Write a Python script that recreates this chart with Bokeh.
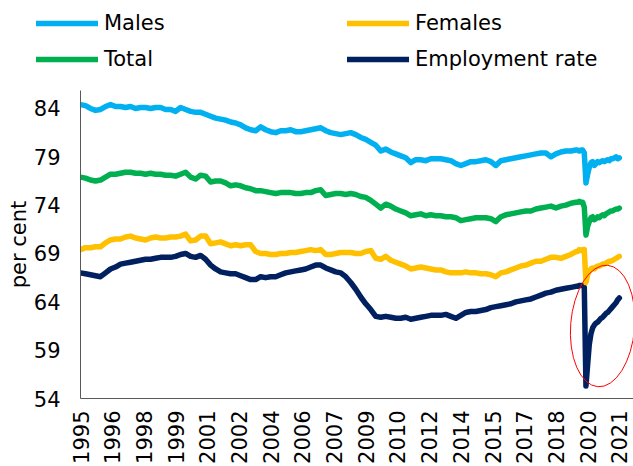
import math
from bokeh.plotting import figure
from bokeh.layouts import column
from bokeh.models import Range1d, FixedTicker, Legend, LegendItem
from bokeh.embed import file_html
from bokeh.resources import INLINE

# Observation months, counted from January 1995 (quarterly to Oct 2019, then monthly to Dec 2021)
month_index = list(range(0, 298, 3)) + list(range(298, 324))

males = [84.4, 84.3, 84.0, 83.8, 83.9, 84.2, 84.4, 84.2, 84.2, 84.1,
         84.2, 84.0, 84.1, 84.1, 84.0, 84.1, 84.1, 83.9, 83.9, 83.7,
         84.1, 83.9, 83.7, 83.6, 83.6, 83.4, 83.2, 83.0, 82.9, 82.8,
         82.6, 82.5, 82.3, 82.0, 81.8, 81.7, 82.1, 81.8, 81.6, 81.5,
         81.7, 81.7, 81.8, 81.6, 81.6, 81.7, 81.8, 81.9, 82.0, 81.7,
         81.5, 81.4, 81.3, 81.4, 81.5, 81.3, 81.0, 80.8, 80.5, 80.2,
         79.6, 79.8, 79.5, 79.3, 79.1, 78.9, 78.4, 78.7, 78.7, 78.6,
         78.8, 78.8, 78.8, 78.7, 78.6, 78.3, 78.1, 78.3, 78.5, 78.5,
         78.6, 78.7, 78.5, 78.1, 78.6, 78.7, 78.8, 78.9, 79.0, 79.1,
         79.2, 79.3, 79.4, 79.4, 79.0, 79.3, 79.5, 79.6, 79.6, 79.7,
         79.7, 79.6, 79.7, 79.7, 79.4, 76.3, 77.2, 77.9, 78.4, 78.5,
         78.1, 78.3, 78.5, 78.4, 78.5, 78.6, 78.5, 78.6, 78.7, 78.6,
         78.8, 78.8, 78.9, 79.0, 78.8, 78.9]

females = [69.4, 69.6, 69.6, 69.7, 69.7, 70.1, 70.4, 70.5, 70.5, 70.7,
           70.8, 70.6, 70.5, 70.4, 70.6, 70.7, 70.6, 70.6, 70.7, 70.7,
           70.8, 71.0, 70.3, 70.4, 70.8, 70.8, 70.0, 70.1, 70.2, 70.0,
           69.8, 69.9, 69.8, 69.9, 69.9, 69.2, 69.0, 69.0, 68.9, 68.9,
           69.0, 69.0, 69.1, 69.1, 69.2, 69.3, 69.4, 69.3, 69.4, 68.9,
           68.9, 69.0, 69.1, 69.1, 69.1, 69.0, 69.0, 69.2, 69.3, 68.5,
           68.4, 68.7, 68.3, 68.1, 67.9, 67.7, 67.4, 67.5, 67.6, 67.5,
           67.4, 67.3, 67.3, 67.1, 67.0, 67.0, 67.0, 67.1, 67.0, 67.0,
           66.9, 66.9, 66.8, 66.6, 67.0, 67.1, 67.3, 67.5, 67.7, 67.8,
           68.0, 68.2, 68.2, 68.4, 68.6, 68.6, 68.5, 68.7, 68.9, 69.2,
           69.2, 69.4, 69.3, 69.4, 69.4, 66.0, 66.8, 67.2, 67.4, 67.5,
           67.4, 67.6, 67.7, 67.7, 67.8, 67.9, 67.9, 68.0, 68.1, 68.2,
           68.2, 68.3, 68.4, 68.5, 68.6, 68.7]

total = [76.9, 76.8, 76.6, 76.5, 76.6, 76.9, 77.2, 77.2, 77.3, 77.4,
         77.4, 77.3, 77.3, 77.2, 77.3, 77.2, 77.2, 77.1, 77.1, 77.0,
         77.2, 77.4, 76.9, 76.7, 77.1, 77.0, 76.4, 76.5, 76.5, 76.3,
         76.0, 76.1, 76.0, 75.8, 75.7, 75.5, 75.5, 75.4, 75.3, 75.2,
         75.3, 75.3, 75.3, 75.2, 75.2, 75.3, 75.3, 75.5, 75.6, 75.0,
         75.1, 75.2, 75.2, 75.1, 75.2, 75.1, 74.9, 74.8, 74.5, 74.1,
         73.7, 74.1, 73.9, 73.6, 73.4, 73.2, 72.9, 73.0, 73.1, 72.9,
         73.0, 72.9, 72.9, 72.8, 72.8, 72.7, 72.4, 72.5, 72.6, 72.7,
         72.7, 72.7, 72.6, 72.3, 72.8, 73.0, 73.1, 73.2, 73.3, 73.4,
         73.4, 73.6, 73.7, 73.8, 73.9, 73.7, 73.9, 74.0, 74.2, 74.3,
         74.3, 74.4, 74.3, 74.3, 73.8, 70.9, 71.8, 72.3, 72.7, 72.8,
         72.5, 72.6, 72.8, 72.7, 72.9, 73.0, 72.9, 73.1, 73.2, 73.3,
         73.4, 73.4, 73.5, 73.6, 73.6, 73.7]

employment_rate = [67.0, 66.9, 66.8, 66.7, 66.6, 67.0, 67.4, 67.6, 67.9, 68.0,
                   68.1, 68.2, 68.3, 68.4, 68.4, 68.5, 68.6, 68.6, 68.6, 68.7,
                   68.9, 69.0, 68.7, 68.6, 68.8, 68.4, 67.8, 67.4, 67.1, 67.0,
                   66.9, 66.9, 66.7, 66.5, 66.3, 66.3, 66.6, 66.5, 66.6, 66.6,
                   66.8, 67.0, 67.1, 67.2, 67.3, 67.4, 67.6, 67.8, 67.8, 67.5,
                   67.3, 67.1, 67.0, 66.6, 66.0, 65.3, 64.5, 63.8, 63.2, 62.5,
                   62.4, 62.5, 62.4, 62.3, 62.3, 62.4, 62.2, 62.3, 62.4, 62.5,
                   62.6, 62.6, 62.6, 62.7, 62.5, 62.3, 62.6, 62.9, 63.0, 63.0,
                   63.1, 63.2, 63.4, 63.5, 63.6, 63.7, 63.8, 64.0, 64.1, 64.2,
                   64.3, 64.5, 64.7, 64.9, 65.0, 65.2, 65.3, 65.4, 65.5, 65.6,
                   65.6, 65.7, 65.7, 65.7, 65.5, 55.3, 57.5, 59.6, 60.7, 61.3,
                   61.6, 61.8, 61.9, 62.1, 62.3, 62.4, 62.6, 62.8, 62.9, 63.1,
                   63.3, 63.5, 63.7, 63.9, 64.2, 64.4]

tick_months = list(range(0, 324, 19))
tick_labels = ["1995", "1996", "1998", "1999", "2001", "2002", "2004", "2006", "2007",
               "2009", "2010", "2012", "2014", "2015", "2017", "2018", "2020", "2021"]
y_ticks = [54, 59, 64, 69, 74, 79, 84]

# highlighted COVID-19 episode (red ellipse)
highlight_x = [313]
highlight_y = [61.5]

FONT = "DejaVu Sans"
COLORS = {"Males": "#00B0F0", "Females": "#FFC000", "Total": "#00B050",
          "Employment rate": "#002060"}
SERIES = {"Males": males, "Females": females, "Total": total,
          "Employment rate": employment_rate}
line_style = dict(line_width=5.5, line_cap="round", line_join="round")

# ---------------- main chart ----------------
p = figure(width=633, height=376, output_backend="svg", toolbar_location=None,
           x_range=Range1d(0, 331.5), y_range=Range1d(54, 85.86),
           min_border_left=80, min_border_right=0, min_border_top=0, min_border_bottom=68)
p.frame_align = False
p.outline_line_color = None
p.xgrid.visible = False
p.ygrid.visible = False

for name in ["Employment rate", "Males", "Females", "Total"]:
    p.line(month_index, SERIES[name], line_color=COLORS[name], **line_style)

p.ellipse(x=highlight_x, y=highlight_y, width=64, height=122,
          width_units="screen", height_units="screen", angle=-0.08,
          fill_color=None, line_color="#FF0000", line_width=1)

p.xaxis.ticker = FixedTicker(ticks=tick_months)
p.xaxis.major_label_overrides = {m: lab for m, lab in zip(tick_months, tick_labels)}
p.xaxis.major_label_orientation = math.pi / 2
p.yaxis.ticker = FixedTicker(ticks=y_ticks)
p.yaxis.axis_label = "per cent"
for ax in (p.xaxis[0], p.yaxis[0]):
    ax.major_tick_line_color = None
    ax.minor_tick_line_color = None
    ax.major_tick_out = 0
    ax.major_tick_in = 0
    ax.axis_line_color = "#595959"
    ax.axis_line_width = 1
    ax.major_label_text_font = FONT
    ax.major_label_text_font_size = "21px"
    ax.major_label_text_color = "#000000"
p.xaxis.major_label_standoff = 12
p.yaxis.major_label_standoff = 20
p.yaxis.axis_label_standoff = 0
p.yaxis.axis_label_text_font = FONT
p.yaxis.axis_label_text_font_size = "21px"
p.yaxis.axis_label_text_font_style = "normal"
p.yaxis.axis_label_text_color = "#000000"

# ---------------- legend strip above the chart ----------------
lg = figure(width=633, height=90, output_backend="svg", toolbar_location=None,
            x_range=Range1d(0, 1), y_range=Range1d(0, 1),
            min_border=0, x_axis_type=None, y_axis_type=None)
lg.frame_align = False
lg.outline_line_color = None
lg.xgrid.visible = False
lg.ygrid.visible = False
items = []
for name in ["Males", "Females", "Total", "Employment rate"]:
    # same series; outside this strip's ranges, so only the legend swatch shows
    r = lg.line(month_index, SERIES[name], line_color=COLORS[name], **line_style)
    items.append(LegendItem(label=name, renderers=[r]))
legend = Legend(items=items, location=(36, 19), orientation="horizontal", ncols=2,
                glyph_width=62, glyph_height=20, label_standoff=6,
                label_width=231, spacing=12, padding=0, margin=0,
                border_line_color=None, background_fill_alpha=0,
                label_text_font=FONT, label_text_font_size="21px",
                label_text_color="#000000")
lg.add_layout(legend, "center")

layout = column(lg, p, spacing=0)
open("out.html", "w").write(file_html(layout, INLINE))
